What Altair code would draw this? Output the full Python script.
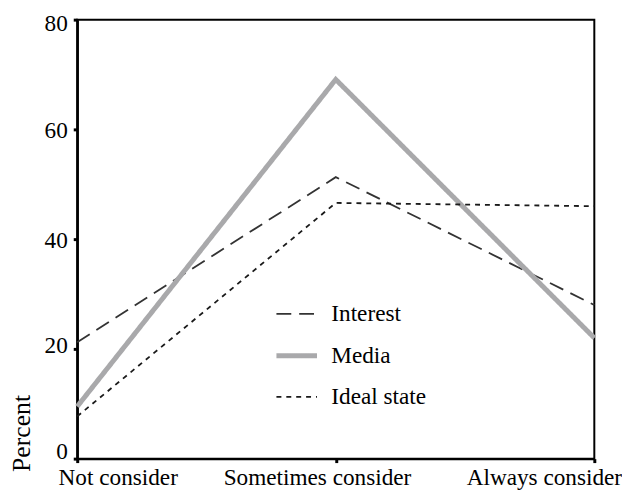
import altair as alt
import pandas as pd

categories = ["Not consider", "Sometimes consider", "Always consider"]
series = ["Interest", "Media", "Ideal state"]
interest = [21.2, 51.3, 28.0]
media = [9.5, 69.1, 22.0]
ideal = [7.7, 46.6, 46.0]

rows = []
for name, vals in zip(series, [interest, media, ideal]):
    for c, v in zip(categories, vals):
        rows.append({"category": c, "series": name, "value": v})
df = pd.DataFrame(rows)

FONT = "Liberation Serif"

chart = alt.Chart(df).mark_line(strokeCap="butt", strokeJoin="miter").encode(
    x=alt.X(
        "category:N",
        sort=categories,
        scale=alt.Scale(type="point", padding=0),
        axis=alt.Axis(
            title=None,
            labelAngle=0,
            labelFont=FONT,
            labelFontSize=23.5,
            labelColor="black",
            labelPadding=3,
            labelLimit=400,
            tickSize=4,
            tickWidth=3,
            tickColor="black",
            domainColor="black",
            domainWidth=2.5,
            labelOffset={
                "condition": [
                    {"test": "datum.value == 'Not consider'", "value": 41},
                    {"test": "datum.value == 'Always consider'", "value": -51},
                ],
                "value": -19,
            },
        ),
    ),
    y=alt.Y(
        "value:Q",
        scale=alt.Scale(domain=[0, 80], nice=False),
        axis=alt.Axis(
            title="Percent",
            values=[0, 20, 40, 60, 80],
            grid=False,
            labelFont=FONT,
            labelFontSize=23.5,
            labelColor="black",
            labelPadding=6,
            tickSize=4,
            tickWidth=3,
            tickColor="black",
            domainColor="black",
            domainWidth=2.5,
            labelOffset={
                "condition": [
                    {"test": "datum.value == 0", "value": -7},
                    {"test": "datum.value == 20", "value": -3},
                    {"test": "datum.value == 80", "value": 4},
                ],
                "value": 1,
            },
            titleFont=FONT,
            titleFontSize=26,
            titleFontWeight="normal",
            titleColor="black",
            titleX=-56,
            titleY=418,
            titleAngle=-90,
            titleAlign="center",
            titleBaseline="middle",
        ),
    ),
    color=alt.Color(
        "series:N",
        scale=alt.Scale(domain=series, range=["#333333", "#a9a9ab", "#1a1a1a"]),
        legend=alt.Legend(
            title=None,
            orient="none",
            legendX=199,
            legendY=276,
            symbolType="stroke",
            symbolSize=1681,
            labelFont=FONT,
            labelFontSize=23.5,
            labelColor="black",
            labelOffset=12,
            rowPadding=8,
        ),
    ),
    strokeDash=alt.StrokeDash(
        "series:N",
        scale=alt.Scale(domain=series, range=[[15, 8], [1, 0], [5, 5]]),
        legend=None,
    ),
    strokeWidth=alt.StrokeWidth(
        "series:N",
        scale=alt.Scale(type="ordinal", domain=series, range=[1.8, 5, 1.8]),
        legend=None,
    ),
).properties(
    width=523,
    height=444,
    autosize=alt.AutoSizeParams(type="none"),
    padding={"left": 70, "top": 9, "right": 28, "bottom": 33},
).configure(
    background="white",
    font=FONT,
).configure_axis(
    labelFont=FONT,
).configure_legend(
    labelFont=FONT,
).configure_view(
    stroke="black",
    strokeWidth=2,
)

chart.save("out.html", embed_options={"renderer": "svg", "actions": False})
